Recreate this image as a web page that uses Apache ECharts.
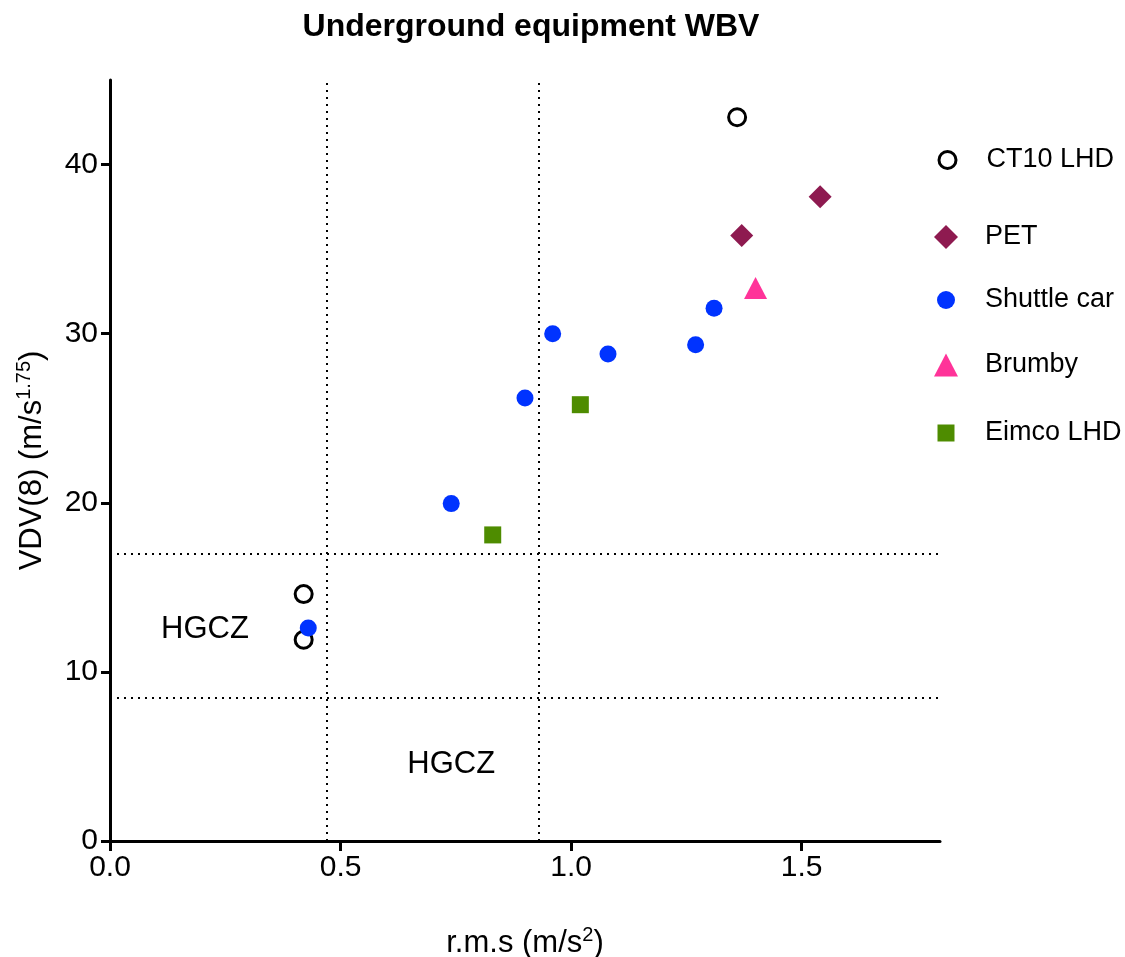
<!DOCTYPE html>
<html>
<head>
<meta charset="utf-8">
<script src="https://cdn.jsdelivr.net/npm/echarts@6/dist/echarts.min.js"></script>
<style>
  html, body { margin: 0; padding: 0; background: #fff; }
  #chart { width: 1125px; height: 957px; }
</style>
</head>
<body>
<div id="chart"></div>
<script>
// data: [rms, VDV(8)]
var ct10Lhd = [[1.36, 42.8], [0.42, 14.6], [0.42, 11.9]];
var pet = [[1.37, 35.8], [1.54, 38.1]];
var shuttleCar = [[0.74, 19.95], [0.90, 26.2], [0.96, 30.0], [1.08, 28.8], [1.27, 29.35], [1.31, 31.5], [0.43, 12.6]];
var brumby = [[1.40, 32.7]];
var eimcoLhd = [[1.02, 25.8], [0.83, 18.1]];

// HGCZ limits (dotted lines)
var rmsLimits = [0.47, 0.93];
var vdvLimits = [17, 8.5];
var zoneLabels = [[0.206, 12.5], [0.74, 4.5]];

var xTicks = [0, 0.5, 1, 1.5];
var yTicks = [0, 10, 20, 30, 40];

var seriesNames = ["CT10 LHD", "PET", "Shuttle car", "Brumby", "Eimco LHD"];

var font = "Arial, 'Liberation Sans', sans-serif";
var myChart = echarts.init(document.getElementById("chart"));

// one legend per entry so every icon keeps its own size and row
var legendRows = [
  { y: 159, w: 17, h: 17, item: { borderWidth: 3 } },
  { y: 236, w: 24, h: 24 },
  { y: 299, w: 18, h: 18 },
  { y: 364, w: 24, h: 23 },
  { y: 432, w: 17, h: 17 },
];
var legends = legendRows.map(function (r, i) {
  var iconLeft = 946 - r.w / 2;
  return {
    orient: "vertical",
    left: iconLeft,
    top: r.y - 15,
    padding: 0,
    itemWidth: r.w,
    itemHeight: r.h,
    selectedMode: false,
    textStyle: {
      fontSize: 27,
      lineHeight: 32,
      color: "#000",
      fontFamily: font,
      padding: [0, 0, 0, 985 - (iconLeft + r.w + 5)],
    },
    data: [r.item ? { name: seriesNames[i], itemStyle: r.item } : seriesNames[i]],
  };
});

var supRich = { sup: { fontSize: 20, verticalAlign: "top", padding: [0, 0, 16, 0], fontFamily: font, color: "#000" } };

var option = {
  animation: false,
  backgroundColor: "#fff",
  textStyle: { fontFamily: font },
  title: {
    text: "Underground equipment WBV",
    left: 526,
    top: 6,
    textAlign: "center",
    textStyle: { fontSize: 32, fontWeight: "bold", color: "#000", fontFamily: font },
  },
  legend: legends,
  grid: { left: 110, right: 185, top: 80, bottom: 116, containLabel: false, outerBoundsMode: "none" },
  xAxis: {
    type: "value",
    min: 0,
    max: 1.8,
    name: "r.m.s (m/s{sup|2})",
    nameLocation: "middle",
    nameGap: 84,
    nameTextStyle: { fontSize: 31, color: "#000", fontFamily: font, rich: supRich },
    splitLine: { show: false },
    axisLine: { lineStyle: { color: "#000", width: 3 } },
    axisTick: { length: 10, lineStyle: { color: "#000", width: 3 }, customValues: xTicks },
    axisLabel: {
      fontSize: 30,
      color: "#000",
      margin: 12,
      customValues: xTicks,
      formatter: function (v) { return v.toFixed(1); },
    },
  },
  yAxis: {
    type: "value",
    min: 0,
    max: 45,
    name: "VDV(8) (m/s{sup|1.75})",
    nameLocation: "middle",
    nameGap: 60,
    nameTextStyle: { fontSize: 31, color: "#000", fontFamily: font, rich: supRich },
    splitLine: { show: false },
    axisLine: { lineStyle: { color: "#000", width: 3 } },
    axisTick: { length: 9, lineStyle: { color: "#000", width: 3 }, customValues: yTicks },
    axisLabel: { fontSize: 30, color: "#000", margin: 12, customValues: yTicks },
  },
  series: [
    {
      type: "scatter",
      name: "limits",
      data: [],
      silent: true,
      markLine: {
        silent: true,
        symbol: "none",
        label: { show: false },
        lineStyle: { color: "#000", type: [2, 5], width: 2, opacity: 1 },
        data: rmsLimits.map(function (v) { return { xAxis: v }; })
          .concat(vdvLimits.map(function (v) { return { yAxis: v }; })),
      },
    },
    {
      type: "scatter",
      name: "zones",
      silent: true,
      symbolSize: 0,
      data: zoneLabels,
      itemStyle: { opacity: 1 },
      label: {
        show: true,
        formatter: "HGCZ",
        position: "inside",
        fontSize: 31,
        color: "#000",
        fontFamily: font,
      },
    },
    {
      type: "scatter",
      name: "CT10 LHD",
      data: ct10Lhd,
      symbol: "circle",
      symbolSize: 17,
      itemStyle: { color: "#fff", borderColor: "#000", borderWidth: 3, opacity: 1 },
      z: 3,
    },
    {
      type: "scatter",
      name: "PET",
      data: pet,
      symbol: "diamond",
      symbolSize: 23,
      itemStyle: { color: "#8e1a50", opacity: 1 },
    },
    {
      type: "scatter",
      name: "Shuttle car",
      data: shuttleCar,
      symbol: "circle",
      symbolSize: 17,
      itemStyle: { color: "#0033ff", opacity: 1 },
      z: 4,
    },
    {
      type: "scatter",
      name: "Brumby",
      data: brumby,
      symbol: "triangle",
      symbolSize: [23, 22],
      itemStyle: { color: "#ff3399", opacity: 1 },
    },
    {
      type: "scatter",
      name: "Eimco LHD",
      data: eimcoLhd,
      symbol: "rect",
      symbolSize: 17,
      itemStyle: { color: "#4e8c00", opacity: 1 },
    },
  ],
};

myChart.setOption(option);
</script>
</body>
</html>
